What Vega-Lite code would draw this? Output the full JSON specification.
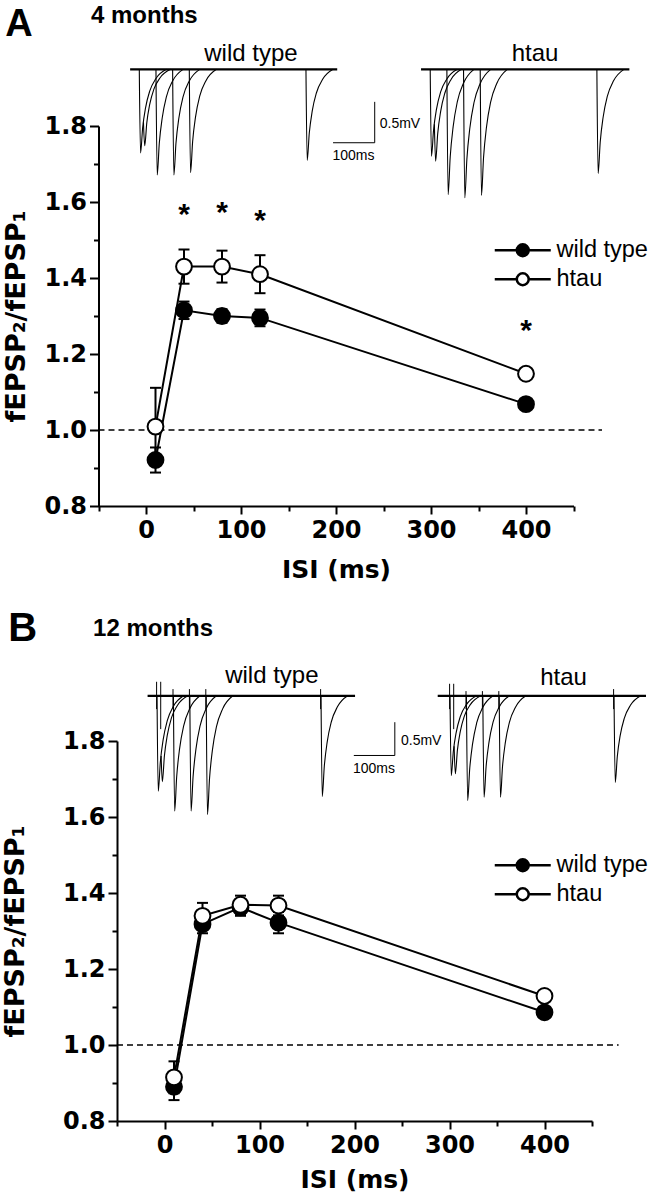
{
"$schema":"https://vega.github.io/schema/vega-lite/v6.json",
"padding":{"left":1,"top":3,"right":0,"bottom":0},
"spacing":27,
"resolve":{"scale":{"fill":"independent"},"legend":{"fill":"independent"}},
"config":{"view":{"stroke":null},"font":"Liberation Sans","axis":{"domainColor":"black","tickColor":"black","labelColor":"black","titleColor":"black","grid":false,"labelFont":"DejaVu Sans","titleFont":"DejaVu Sans"},"legend":{"labelColor":"black"}},
"datasets":{
"ppr":[
{"p":"A","g":"wild type","isi":10,"m":0.921,"lo":0.888,"hi":0.954},
{"p":"A","g":"wild type","isi":40,"m":1.315,"lo":1.292,"hi":1.338},
{"p":"A","g":"wild type","isi":80,"m":1.30,"lo":1.282,"hi":1.318},
{"p":"A","g":"wild type","isi":120,"m":1.295,"lo":1.273,"hi":1.317},
{"p":"A","g":"wild type","isi":400,"m":1.068,"lo":1.058,"hi":1.078},
{"p":"A","g":"htau","isi":10,"m":1.009,"lo":0.907,"hi":1.111},
{"p":"A","g":"htau","isi":40,"m":1.43,"lo":1.385,"hi":1.475},
{"p":"A","g":"htau","isi":80,"m":1.43,"lo":1.388,"hi":1.472},
{"p":"A","g":"htau","isi":120,"m":1.41,"lo":1.36,"hi":1.46},
{"p":"A","g":"htau","isi":400,"m":1.148,"lo":1.138,"hi":1.158},
{"p":"B","g":"wild type","isi":10,"m":0.89,"lo":0.855,"hi":0.925},
{"p":"B","g":"wild type","isi":40,"m":1.318,"lo":1.294,"hi":1.342},
{"p":"B","g":"wild type","isi":80,"m":1.362,"lo":1.34,"hi":1.384},
{"p":"B","g":"wild type","isi":120,"m":1.322,"lo":1.294,"hi":1.35},
{"p":"B","g":"wild type","isi":400,"m":1.086,"lo":1.076,"hi":1.096},
{"p":"B","g":"htau","isi":10,"m":0.915,"lo":0.873,"hi":0.957},
{"p":"B","g":"htau","isi":40,"m":1.34,"lo":1.306,"hi":1.374},
{"p":"B","g":"htau","isi":80,"m":1.369,"lo":1.345,"hi":1.393},
{"p":"B","g":"htau","isi":120,"m":1.367,"lo":1.341,"hi":1.393},
{"p":"B","g":"htau","isi":400,"m":1.129,"lo":1.119,"hi":1.139}
],
"ref":[{"p":"A","y":1,"x0":-50,"x1":480},{"p":"B","y":1,"x0":-50,"x1":478}],
"sig":[{"p":"A","isi":40,"y":1.575,"lab":"*"},{"p":"A","isi":80,"y":1.578,"lab":"*"},{"p":"A","isi":120,"y":1.557,"lab":"*"},{"p":"A","isi":400,"y":1.269,"lab":"*"}],
"base":[{"p":"A","g":"wt","t0":-22,"t1":475,"v":0},{"p":"A","g":"ht","t0":-22,"t1":478,"v":0},{"p":"B","g":"wt","t0":-23,"t1":483,"v":0},{"p":"B","g":"ht","t0":-30,"t1":478,"v":0}],
"stim":[
{"p":"B","g":"wt","t":-1,"v0":0.21,"v1":-0.2},{"p":"B","g":"wt","t":9,"v0":0.21,"v1":-0.5},{"p":"B","g":"wt","t":39,"v0":0.1,"v1":-0.2},{"p":"B","g":"wt","t":79,"v0":0.1,"v1":-0.2},{"p":"B","g":"wt","t":119,"v0":0.1,"v1":-0.2},{"p":"B","g":"wt","t":399,"v0":0.1,"v1":-0.2},
{"p":"B","g":"ht","t":-1,"v0":0.18,"v1":-0.2},{"p":"B","g":"ht","t":9,"v0":0.18,"v1":-0.5},{"p":"B","g":"ht","t":39,"v0":0.07,"v1":-0.2},{"p":"B","g":"ht","t":79,"v0":0.07,"v1":-0.2},{"p":"B","g":"ht","t":119,"v0":0.07,"v1":-0.2},{"p":"B","g":"ht","t":399,"v0":0.1,"v1":-0.2}
],
"bar":[{"p":"A","t0":465,"t1":565,"v0":-0.903,"v1":-0.40},{"p":"B","t0":480,"t1":580,"v0":-0.895,"v1":-0.396}],
"txt":[
{"p":"A","k":"letter","text":"A","t":-322,"v":0.404},
{"p":"A","k":"title","text":"4 months","t":-116,"v":0.57},
{"p":"A","k":"wt","text":"wild type","t":268,"v":0.10},
{"p":"A","k":"ht","text":"htau","t":251.5,"v":0.10},
{"p":"A","k":"mv","text":"0.5mV","t":577,"v":-0.673},
{"p":"A","k":"ms","text":"100ms","t":514,"v":-1.067},
{"p":"B","k":"letter","text":"B","t":-363,"v":0.814},
{"p":"B","k":"title","text":"12 months","t":-156,"v":0.889},
{"p":"B","k":"wt","text":"wild type","t":280,"v":0.189},
{"p":"B","k":"ht","text":"htau","t":277,"v":0.165},
{"p":"B","k":"mv","text":"0.5mV","t":595,"v":-0.675},
{"p":"B","k":"ms","text":"100ms","t":529,"v":-1.10}
],
"tr":[
{"p":"A","g":"wt","s":"0","t":0,"v":0},{"p":"A","g":"wt","s":"0","t":3,"v":-1.03},{"p":"A","g":"wt","s":"0","t":8,"v":-0.721},{"p":"A","g":"wt","s":"0","t":15,"v":-0.474},{"p":"A","g":"wt","s":"0","t":25,"v":-0.268},{"p":"A","g":"wt","s":"0","t":40,"v":-0.113},{"p":"A","g":"wt","s":"0","t":65,"v":0},
{"p":"A","g":"wt","s":"10","t":10,"v":-0.65},{"p":"A","g":"wt","s":"10","t":13,"v":-0.94},{"p":"A","g":"wt","s":"10","t":18,"v":-0.658},{"p":"A","g":"wt","s":"10","t":25,"v":-0.432},{"p":"A","g":"wt","s":"10","t":35,"v":-0.244},{"p":"A","g":"wt","s":"10","t":50,"v":-0.103},{"p":"A","g":"wt","s":"10","t":75,"v":0},
{"p":"A","g":"wt","s":"40","t":40,"v":0},{"p":"A","g":"wt","s":"40","t":43,"v":-1.3},{"p":"A","g":"wt","s":"40","t":48,"v":-0.91},{"p":"A","g":"wt","s":"40","t":55,"v":-0.598},{"p":"A","g":"wt","s":"40","t":65,"v":-0.338},{"p":"A","g":"wt","s":"40","t":80,"v":-0.143},{"p":"A","g":"wt","s":"40","t":105,"v":0},
{"p":"A","g":"wt","s":"80","t":80,"v":0},{"p":"A","g":"wt","s":"80","t":83,"v":-1.3},{"p":"A","g":"wt","s":"80","t":88,"v":-0.91},{"p":"A","g":"wt","s":"80","t":95,"v":-0.598},{"p":"A","g":"wt","s":"80","t":105,"v":-0.338},{"p":"A","g":"wt","s":"80","t":120,"v":-0.143},{"p":"A","g":"wt","s":"80","t":145,"v":0},
{"p":"A","g":"wt","s":"120","t":120,"v":0},{"p":"A","g":"wt","s":"120","t":123,"v":-1.27},{"p":"A","g":"wt","s":"120","t":128,"v":-0.889},{"p":"A","g":"wt","s":"120","t":135,"v":-0.584},{"p":"A","g":"wt","s":"120","t":145,"v":-0.33},{"p":"A","g":"wt","s":"120","t":160,"v":-0.14},{"p":"A","g":"wt","s":"120","t":185,"v":0},
{"p":"A","g":"wt","s":"400","t":400,"v":0},{"p":"A","g":"wt","s":"400","t":403,"v":-1.12},{"p":"A","g":"wt","s":"400","t":408,"v":-0.784},{"p":"A","g":"wt","s":"400","t":415,"v":-0.515},{"p":"A","g":"wt","s":"400","t":425,"v":-0.291},{"p":"A","g":"wt","s":"400","t":440,"v":-0.123},{"p":"A","g":"wt","s":"400","t":465,"v":0},
{"p":"A","g":"ht","s":"0","t":0,"v":0},{"p":"A","g":"ht","s":"0","t":3,"v":-1.07},{"p":"A","g":"ht","s":"0","t":8,"v":-0.749},{"p":"A","g":"ht","s":"0","t":15,"v":-0.492},{"p":"A","g":"ht","s":"0","t":25,"v":-0.278},{"p":"A","g":"ht","s":"0","t":40,"v":-0.118},{"p":"A","g":"ht","s":"0","t":65,"v":0},
{"p":"A","g":"ht","s":"10","t":10,"v":-0.676},{"p":"A","g":"ht","s":"10","t":13,"v":-1.13},{"p":"A","g":"ht","s":"10","t":18,"v":-0.791},{"p":"A","g":"ht","s":"10","t":25,"v":-0.52},{"p":"A","g":"ht","s":"10","t":35,"v":-0.294},{"p":"A","g":"ht","s":"10","t":50,"v":-0.124},{"p":"A","g":"ht","s":"10","t":75,"v":0},
{"p":"A","g":"ht","s":"40","t":40,"v":0},{"p":"A","g":"ht","s":"40","t":43,"v":-1.54},{"p":"A","g":"ht","s":"40","t":48,"v":-1.078},{"p":"A","g":"ht","s":"40","t":55,"v":-0.708},{"p":"A","g":"ht","s":"40","t":65,"v":-0.4},{"p":"A","g":"ht","s":"40","t":80,"v":-0.169},{"p":"A","g":"ht","s":"40","t":105,"v":0},
{"p":"A","g":"ht","s":"80","t":80,"v":0},{"p":"A","g":"ht","s":"80","t":83,"v":-1.58},{"p":"A","g":"ht","s":"80","t":88,"v":-1.106},{"p":"A","g":"ht","s":"80","t":95,"v":-0.727},{"p":"A","g":"ht","s":"80","t":105,"v":-0.411},{"p":"A","g":"ht","s":"80","t":120,"v":-0.174},{"p":"A","g":"ht","s":"80","t":145,"v":0},
{"p":"A","g":"ht","s":"120","t":120,"v":0},{"p":"A","g":"ht","s":"120","t":123,"v":-1.55},{"p":"A","g":"ht","s":"120","t":128,"v":-1.085},{"p":"A","g":"ht","s":"120","t":135,"v":-0.713},{"p":"A","g":"ht","s":"120","t":145,"v":-0.403},{"p":"A","g":"ht","s":"120","t":160,"v":-0.171},{"p":"A","g":"ht","s":"120","t":185,"v":0},
{"p":"A","g":"ht","s":"400","t":400,"v":0},{"p":"A","g":"ht","s":"400","t":403,"v":-1.28},{"p":"A","g":"ht","s":"400","t":408,"v":-0.896},{"p":"A","g":"ht","s":"400","t":415,"v":-0.589},{"p":"A","g":"ht","s":"400","t":425,"v":-0.333},{"p":"A","g":"ht","s":"400","t":440,"v":-0.141},{"p":"A","g":"ht","s":"400","t":465,"v":0},
{"p":"B","g":"wt","s":"0","t":0,"v":0},{"p":"B","g":"wt","s":"0","t":3,"v":-1.43},{"p":"B","g":"wt","s":"0","t":8,"v":-1.001},{"p":"B","g":"wt","s":"0","t":15,"v":-0.658},{"p":"B","g":"wt","s":"0","t":25,"v":-0.372},{"p":"B","g":"wt","s":"0","t":40,"v":-0.157},{"p":"B","g":"wt","s":"0","t":65,"v":0},
{"p":"B","g":"wt","s":"10","t":10,"v":-0.903},{"p":"B","g":"wt","s":"10","t":13,"v":-1.29},{"p":"B","g":"wt","s":"10","t":18,"v":-0.903},{"p":"B","g":"wt","s":"10","t":25,"v":-0.593},{"p":"B","g":"wt","s":"10","t":35,"v":-0.335},{"p":"B","g":"wt","s":"10","t":50,"v":-0.142},{"p":"B","g":"wt","s":"10","t":75,"v":0},
{"p":"B","g":"wt","s":"40","t":40,"v":0},{"p":"B","g":"wt","s":"40","t":43,"v":-1.73},{"p":"B","g":"wt","s":"40","t":48,"v":-1.211},{"p":"B","g":"wt","s":"40","t":55,"v":-0.796},{"p":"B","g":"wt","s":"40","t":65,"v":-0.45},{"p":"B","g":"wt","s":"40","t":80,"v":-0.19},{"p":"B","g":"wt","s":"40","t":105,"v":0},
{"p":"B","g":"wt","s":"80","t":80,"v":0},{"p":"B","g":"wt","s":"80","t":83,"v":-1.73},{"p":"B","g":"wt","s":"80","t":88,"v":-1.211},{"p":"B","g":"wt","s":"80","t":95,"v":-0.796},{"p":"B","g":"wt","s":"80","t":105,"v":-0.45},{"p":"B","g":"wt","s":"80","t":120,"v":-0.19},{"p":"B","g":"wt","s":"80","t":145,"v":0},
{"p":"B","g":"wt","s":"120","t":120,"v":0},{"p":"B","g":"wt","s":"120","t":123,"v":-1.78},{"p":"B","g":"wt","s":"120","t":128,"v":-1.246},{"p":"B","g":"wt","s":"120","t":135,"v":-0.819},{"p":"B","g":"wt","s":"120","t":145,"v":-0.463},{"p":"B","g":"wt","s":"120","t":160,"v":-0.196},{"p":"B","g":"wt","s":"120","t":185,"v":0},
{"p":"B","g":"wt","s":"400","t":400,"v":0},{"p":"B","g":"wt","s":"400","t":403,"v":-1.51},{"p":"B","g":"wt","s":"400","t":408,"v":-1.057},{"p":"B","g":"wt","s":"400","t":415,"v":-0.695},{"p":"B","g":"wt","s":"400","t":425,"v":-0.393},{"p":"B","g":"wt","s":"400","t":440,"v":-0.166},{"p":"B","g":"wt","s":"400","t":465,"v":0},
{"p":"B","g":"ht","s":"0","t":0,"v":0},{"p":"B","g":"ht","s":"0","t":3,"v":-1.2},{"p":"B","g":"ht","s":"0","t":8,"v":-0.84},{"p":"B","g":"ht","s":"0","t":15,"v":-0.552},{"p":"B","g":"ht","s":"0","t":25,"v":-0.312},{"p":"B","g":"ht","s":"0","t":40,"v":-0.132},{"p":"B","g":"ht","s":"0","t":65,"v":0},
{"p":"B","g":"ht","s":"10","t":10,"v":-0.758},{"p":"B","g":"ht","s":"10","t":13,"v":-1.17},{"p":"B","g":"ht","s":"10","t":18,"v":-0.819},{"p":"B","g":"ht","s":"10","t":25,"v":-0.538},{"p":"B","g":"ht","s":"10","t":35,"v":-0.304},{"p":"B","g":"ht","s":"10","t":50,"v":-0.129},{"p":"B","g":"ht","s":"10","t":75,"v":0},
{"p":"B","g":"ht","s":"40","t":40,"v":0},{"p":"B","g":"ht","s":"40","t":43,"v":-1.57},{"p":"B","g":"ht","s":"40","t":48,"v":-1.099},{"p":"B","g":"ht","s":"40","t":55,"v":-0.722},{"p":"B","g":"ht","s":"40","t":65,"v":-0.408},{"p":"B","g":"ht","s":"40","t":80,"v":-0.173},{"p":"B","g":"ht","s":"40","t":105,"v":0},
{"p":"B","g":"ht","s":"80","t":80,"v":0},{"p":"B","g":"ht","s":"80","t":83,"v":-1.52},{"p":"B","g":"ht","s":"80","t":88,"v":-1.064},{"p":"B","g":"ht","s":"80","t":95,"v":-0.699},{"p":"B","g":"ht","s":"80","t":105,"v":-0.395},{"p":"B","g":"ht","s":"80","t":120,"v":-0.167},{"p":"B","g":"ht","s":"80","t":145,"v":0},
{"p":"B","g":"ht","s":"120","t":120,"v":0},{"p":"B","g":"ht","s":"120","t":123,"v":-1.52},{"p":"B","g":"ht","s":"120","t":128,"v":-1.064},{"p":"B","g":"ht","s":"120","t":135,"v":-0.699},{"p":"B","g":"ht","s":"120","t":145,"v":-0.395},{"p":"B","g":"ht","s":"120","t":160,"v":-0.167},{"p":"B","g":"ht","s":"120","t":185,"v":0},
{"p":"B","g":"ht","s":"400","t":400,"v":0},{"p":"B","g":"ht","s":"400","t":403,"v":-1.3},{"p":"B","g":"ht","s":"400","t":408,"v":-0.91},{"p":"B","g":"ht","s":"400","t":415,"v":-0.598},{"p":"B","g":"ht","s":"400","t":425,"v":-0.338},{"p":"B","g":"ht","s":"400","t":440,"v":-0.143},{"p":"B","g":"ht","s":"400","t":465,"v":0}
]
},
"vconcat":[
{
"width":475,"height":380,
"resolve":{"scale":{"x":"independent","y":"independent"}},
"layer":[
{
"resolve":{"axis":{"x":"independent","y":"independent"}},
"layer":[
{"data":{"name":"ref"},"transform":[{"filter":"datum.p==='A'"}],"mark":{"type":"rule","strokeDash":[6,4],"strokeWidth":1.5,"color":"black"},
 "encoding":{"x":{"field":"x0","type":"quantitative","scale":{"domain":[-50,450],"range":[-18.5,456.5],"nice":false,"zero":false},"axis":{"orient":"bottom","values":[-50,50,150,250,350,450],"tickSize":5,"tickWidth":2,"labels":false,"domain":false,"title":null}},"x2":{"field":"x1"},
 "y":{"field":"y","type":"quantitative","scale":{"domain":[0.8,1.8],"nice":false,"zero":false},"axis":{"orient":"left","offset":18.5,"values":[0.9,1.1,1.3,1.5,1.7],"tickSize":5,"tickWidth":2,"labels":false,"domain":false,"title":null}}}},
{"data":{"name":"ppr"},"transform":[{"filter":"datum.p==='A'"}],"mark":{"type":"rule","strokeWidth":2,"color":"black"},
 "encoding":{"x":{"field":"isi","type":"quantitative","axis":null},"y":{"field":"lo","type":"quantitative","axis":null},"y2":{"field":"hi"}}},
{"data":{"name":"ppr"},"transform":[{"filter":"datum.p==='A'"}],"mark":{"type":"tick","orient":"horizontal","size":11,"thickness":2,"color":"black","opacity":1},
 "encoding":{"x":{"field":"isi","type":"quantitative","axis":null},"y":{"field":"lo","type":"quantitative","axis":null}}},
{"data":{"name":"ppr"},"transform":[{"filter":"datum.p==='A'"}],"mark":{"type":"tick","orient":"horizontal","size":11,"thickness":2,"color":"black","opacity":1},
 "encoding":{"x":{"field":"isi","type":"quantitative","axis":null},"y":{"field":"hi","type":"quantitative","axis":null}}},
{"data":{"name":"ppr"},"transform":[{"filter":"datum.p==='A'"}],"mark":{"type":"line","strokeWidth":2,"color":"black"},
 "encoding":{"x":{"field":"isi","type":"quantitative","axis":{"orient":"bottom","values":[0,100,200,300,400],"tickSize":8,"tickWidth":2,"domainWidth":2,"labelFontSize":24,"labelFontWeight":"bold","labelPadding":4,"labelFlush":false,"title":"ISI (ms)","titleFontSize":25,"titleFontWeight":"bold","titlePadding":15}},
 "y":{"field":"m","type":"quantitative","axis":{"orient":"left","offset":18.5,"values":[0.8,1.0,1.2,1.4,1.6,1.8],"format":".1f","tickSize":9,"tickWidth":2,"domainWidth":2,"labelFontSize":24,"labelFontWeight":"bold","labelPadding":3,"title":"fEPSP₂/fEPSP₁","titleFontSize":27,"titleFontWeight":"bold","titlePadding":13}},
 "detail":{"field":"g"}}},
{"data":{"name":"ppr"},"transform":[{"filter":"datum.p==='A'"}],"mark":{"type":"point","shape":"circle","filled":true,"size":250,"stroke":"black","strokeWidth":2,"opacity":1},
 "encoding":{"x":{"field":"isi","type":"quantitative","axis":null},"y":{"field":"m","type":"quantitative","axis":null},
 "fill":{"field":"g","type":"nominal","scale":{"domain":["wild type","htau"],"range":["black","white"]},
 "legend":{"orient":"none","legendX":394,"legendY":112.5,"title":null,"symbolType":"M-4,0L-0.9,0M0.9,0L4,0M0.85,0A0.85,0.85,0,1,1,-0.85,0A0.85,0.85,0,1,1,0.85,0Z","symbolSize":196,"symbolStrokeColor":"black","symbolStrokeWidth":2.5,"labelFontSize":23.5,"labelFont":"Liberation Sans","labelOffset":22,"rowPadding":4,"padding":0}}}},
{"data":{"name":"sig"},"transform":[{"filter":"datum.p==='A'"}],"mark":{"type":"text","fontSize":30,"fontWeight":"bold","baseline":"alphabetic","dy":12,"color":"black"},
 "encoding":{"x":{"field":"isi","type":"quantitative","axis":null},"y":{"field":"y","type":"quantitative","axis":null},"text":{"field":"lab"}}}
]
},
{
"layer":[
{"data":{"name":"tr"},"transform":[{"filter":"datum.p==='A' && datum.g==='wt'"}],"mark":{"type":"line","color":"black","strokeWidth":1.1,"interpolate":"monotone"},
 "encoding":{"x":{"field":"t","type":"quantitative","scale":{"domain":[-53.5,1086.5],"nice":false,"zero":false},"axis":null},"y":{"field":"v","type":"quantitative","scale":{"domain":[-5.371,-0.697],"nice":false,"zero":false},"axis":null},"detail":{"field":"s"}}},
{"data":{"name":"base"},"transform":[{"filter":"datum.p==='A' && datum.g==='wt'"}],"mark":{"type":"rule","color":"black","strokeWidth":2.2},
 "encoding":{"x":{"field":"t0","type":"quantitative","axis":null},"x2":{"field":"t1"},"y":{"field":"v","type":"quantitative","axis":null}}},
{"data":{"name":"bar"},"transform":[{"filter":"datum.p==='A'"}],"mark":{"type":"rule","color":"black","strokeWidth":1},
 "encoding":{"x":{"field":"t0","type":"quantitative","axis":null},"x2":{"field":"t1"},"y":{"field":"v0","type":"quantitative","axis":null}}},
{"data":{"name":"bar"},"transform":[{"filter":"datum.p==='A'"}],"mark":{"type":"rule","color":"black","strokeWidth":1},
 "encoding":{"x":{"field":"t1","type":"quantitative","axis":null},"y":{"field":"v0","type":"quantitative","axis":null},"y2":{"field":"v1"}}},
{"data":{"name":"txt"},"transform":[{"filter":"datum.p==='A' && datum.k==='letter'"}],"mark":{"type":"text","fontSize":38,"fontWeight":"bold","align":"left","baseline":"alphabetic","color":"black"},
 "encoding":{"x":{"field":"t","type":"quantitative","axis":null},"y":{"field":"v","type":"quantitative","axis":null},"text":{"field":"text"}}},
{"data":{"name":"txt"},"transform":[{"filter":"datum.p==='A' && datum.k==='title'"}],"mark":{"type":"text","fontSize":24,"fontWeight":"bold","align":"left","baseline":"alphabetic","color":"black"},
 "encoding":{"x":{"field":"t","type":"quantitative","axis":null},"y":{"field":"v","type":"quantitative","axis":null},"text":{"field":"text"}}},
{"data":{"name":"txt"},"transform":[{"filter":"datum.p==='A' && datum.k==='wt'"}],"mark":{"type":"text","fontSize":24,"align":"center","baseline":"alphabetic","color":"black"},
 "encoding":{"x":{"field":"t","type":"quantitative","axis":null},"y":{"field":"v","type":"quantitative","axis":null},"text":{"field":"text"}}},
{"data":{"name":"txt"},"transform":[{"filter":"datum.p==='A' && datum.k==='mv'"}],"mark":{"type":"text","fontSize":14,"align":"left","baseline":"middle","color":"black"},
 "encoding":{"x":{"field":"t","type":"quantitative","axis":null},"y":{"field":"v","type":"quantitative","axis":null},"text":{"field":"text"}}},
{"data":{"name":"txt"},"transform":[{"filter":"datum.p==='A' && datum.k==='ms'"}],"mark":{"type":"text","fontSize":14,"align":"center","baseline":"middle","color":"black"},
 "encoding":{"x":{"field":"t","type":"quantitative","axis":null},"y":{"field":"v","type":"quantitative","axis":null},"text":{"field":"text"}}}
]
},
{
"layer":[
{"data":{"name":"tr"},"transform":[{"filter":"datum.p==='A' && datum.g==='ht'"}],"mark":{"type":"line","color":"black","strokeWidth":1.1,"interpolate":"monotone"},
 "encoding":{"x":{"field":"t","type":"quantitative","scale":{"domain":[-751.7,388.3],"nice":false,"zero":false},"axis":null},"y":{"field":"v","type":"quantitative","scale":{"domain":[-5.371,-0.697],"nice":false,"zero":false},"axis":null},"detail":{"field":"s"}}},
{"data":{"name":"base"},"transform":[{"filter":"datum.p==='A' && datum.g==='ht'"}],"mark":{"type":"rule","color":"black","strokeWidth":2.2},
 "encoding":{"x":{"field":"t0","type":"quantitative","axis":null},"x2":{"field":"t1"},"y":{"field":"v","type":"quantitative","axis":null}}},
{"data":{"name":"txt"},"transform":[{"filter":"datum.p==='A' && datum.k==='ht'"}],"mark":{"type":"text","fontSize":24,"align":"center","baseline":"alphabetic","color":"black"},
 "encoding":{"x":{"field":"t","type":"quantitative","axis":null},"y":{"field":"v","type":"quantitative","axis":null},"text":{"field":"text"}}}
]
}
]
},
{
"width":475,"height":380,
"resolve":{"scale":{"x":"independent","y":"independent"}},
"layer":[
{
"resolve":{"axis":{"x":"independent","y":"independent"}},
"layer":[
{"data":{"name":"ref"},"transform":[{"filter":"datum.p==='B'"}],"mark":{"type":"rule","strokeDash":[6,4],"strokeWidth":1.5,"color":"black"},
 "encoding":{"x":{"field":"x0","type":"quantitative","scale":{"domain":[-50,450],"nice":false,"zero":false},"axis":{"orient":"bottom","values":[-50,50,150,250,350,450],"tickSize":5,"tickWidth":2,"labels":false,"domain":false,"title":null}},"x2":{"field":"x1"},
 "y":{"field":"y","type":"quantitative","scale":{"domain":[0.8,1.8],"nice":false,"zero":false},"axis":{"orient":"left","values":[0.9,1.1,1.3,1.5,1.7],"tickSize":5,"tickWidth":2,"labels":false,"domain":false,"title":null}}}},
{"data":{"name":"ppr"},"transform":[{"filter":"datum.p==='B'"}],"mark":{"type":"rule","strokeWidth":2,"color":"black"},
 "encoding":{"x":{"field":"isi","type":"quantitative","axis":null},"y":{"field":"lo","type":"quantitative","axis":null},"y2":{"field":"hi"}}},
{"data":{"name":"ppr"},"transform":[{"filter":"datum.p==='B'"}],"mark":{"type":"tick","orient":"horizontal","size":11,"thickness":2,"color":"black","opacity":1},
 "encoding":{"x":{"field":"isi","type":"quantitative","axis":null},"y":{"field":"lo","type":"quantitative","axis":null}}},
{"data":{"name":"ppr"},"transform":[{"filter":"datum.p==='B'"}],"mark":{"type":"tick","orient":"horizontal","size":11,"thickness":2,"color":"black","opacity":1},
 "encoding":{"x":{"field":"isi","type":"quantitative","axis":null},"y":{"field":"hi","type":"quantitative","axis":null}}},
{"data":{"name":"ppr"},"transform":[{"filter":"datum.p==='B'"}],"mark":{"type":"line","strokeWidth":2,"color":"black"},
 "encoding":{"x":{"field":"isi","type":"quantitative","axis":{"orient":"bottom","values":[0,100,200,300,400],"tickSize":8,"tickWidth":2,"domainWidth":2,"labelFontSize":24,"labelFontWeight":"bold","labelPadding":4,"labelFlush":false,"title":"ISI (ms)","titleFontSize":25,"titleFontWeight":"bold","titlePadding":10}},
 "y":{"field":"m","type":"quantitative","axis":{"orient":"left","values":[0.8,1.0,1.2,1.4,1.6,1.8],"format":".1f","tickSize":9,"tickWidth":2,"domainWidth":2,"labelFontSize":24,"labelFontWeight":"bold","labelPadding":3,"title":"fEPSP₂/fEPSP₁","titleFontSize":27,"titleFontWeight":"bold","titlePadding":33}},
 "detail":{"field":"g"}}},
{"data":{"name":"ppr"},"transform":[{"filter":"datum.p==='B'"}],"mark":{"type":"point","shape":"circle","filled":true,"size":250,"stroke":"black","strokeWidth":2,"opacity":1},
 "encoding":{"x":{"field":"isi","type":"quantitative","axis":null},"y":{"field":"m","type":"quantitative","axis":null},
 "fill":{"field":"g","type":"nominal","scale":{"domain":["wild type","htau"],"range":["black","white"]},
 "legend":{"orient":"none","legendX":394,"legendY":112.5,"title":null,"symbolType":"M-4,0L-0.9,0M0.9,0L4,0M0.85,0A0.85,0.85,0,1,1,-0.85,0A0.85,0.85,0,1,1,0.85,0Z","symbolSize":196,"symbolStrokeColor":"black","symbolStrokeWidth":2.5,"labelFontSize":23.5,"labelFont":"Liberation Sans","labelOffset":22,"rowPadding":4,"padding":0}}}}
]
},
{
"layer":[
{"data":{"name":"tr"},"transform":[{"filter":"datum.p==='B' && datum.g==='wt'"}],"mark":{"type":"line","color":"black","strokeWidth":1.1,"interpolate":"monotone"},
 "encoding":{"x":{"field":"t","type":"quantitative","scale":{"domain":[-97.6,1060.9],"nice":false,"zero":false},"axis":null},"y":{"field":"v","type":"quantitative","scale":{"domain":[-6.375,-0.678],"nice":false,"zero":false},"axis":null},"detail":{"field":"s"}}},
{"data":{"name":"base"},"transform":[{"filter":"datum.p==='B' && datum.g==='wt'"}],"mark":{"type":"rule","color":"black","strokeWidth":2.2},
 "encoding":{"x":{"field":"t0","type":"quantitative","axis":null},"x2":{"field":"t1"},"y":{"field":"v","type":"quantitative","axis":null}}},
{"data":{"name":"stim"},"transform":[{"filter":"datum.p==='B' && datum.g==='wt'"}],"mark":{"type":"rule","color":"black","strokeWidth":1},
 "encoding":{"x":{"field":"t","type":"quantitative","axis":null},"y":{"field":"v0","type":"quantitative","axis":null},"y2":{"field":"v1"}}},
{"data":{"name":"bar"},"transform":[{"filter":"datum.p==='B'"}],"mark":{"type":"rule","color":"black","strokeWidth":1},
 "encoding":{"x":{"field":"t0","type":"quantitative","axis":null},"x2":{"field":"t1"},"y":{"field":"v0","type":"quantitative","axis":null}}},
{"data":{"name":"bar"},"transform":[{"filter":"datum.p==='B'"}],"mark":{"type":"rule","color":"black","strokeWidth":1},
 "encoding":{"x":{"field":"t1","type":"quantitative","axis":null},"y":{"field":"v0","type":"quantitative","axis":null},"y2":{"field":"v1"}}},
{"data":{"name":"txt"},"transform":[{"filter":"datum.p==='B' && datum.k==='letter'"}],"mark":{"type":"text","fontSize":40,"fontWeight":"bold","align":"left","baseline":"alphabetic","color":"black"},
 "encoding":{"x":{"field":"t","type":"quantitative","axis":null},"y":{"field":"v","type":"quantitative","axis":null},"text":{"field":"text"}}},
{"data":{"name":"txt"},"transform":[{"filter":"datum.p==='B' && datum.k==='title'"}],"mark":{"type":"text","fontSize":24,"fontWeight":"bold","align":"left","baseline":"alphabetic","color":"black"},
 "encoding":{"x":{"field":"t","type":"quantitative","axis":null},"y":{"field":"v","type":"quantitative","axis":null},"text":{"field":"text"}}},
{"data":{"name":"txt"},"transform":[{"filter":"datum.p==='B' && datum.k==='wt'"}],"mark":{"type":"text","fontSize":24,"align":"center","baseline":"alphabetic","color":"black"},
 "encoding":{"x":{"field":"t","type":"quantitative","axis":null},"y":{"field":"v","type":"quantitative","axis":null},"text":{"field":"text"}}},
{"data":{"name":"txt"},"transform":[{"filter":"datum.p==='B' && datum.k==='mv'"}],"mark":{"type":"text","fontSize":14,"align":"left","baseline":"middle","color":"black"},
 "encoding":{"x":{"field":"t","type":"quantitative","axis":null},"y":{"field":"v","type":"quantitative","axis":null},"text":{"field":"text"}}},
{"data":{"name":"txt"},"transform":[{"filter":"datum.p==='B' && datum.k==='ms'"}],"mark":{"type":"text","fontSize":14,"align":"center","baseline":"middle","color":"black"},
 "encoding":{"x":{"field":"t","type":"quantitative","axis":null},"y":{"field":"v","type":"quantitative","axis":null},"text":{"field":"text"}}}
]
},
{
"layer":[
{"data":{"name":"tr"},"transform":[{"filter":"datum.p==='B' && datum.g==='ht'"}],"mark":{"type":"line","color":"black","strokeWidth":1.1,"interpolate":"monotone"},
 "encoding":{"x":{"field":"t","type":"quantitative","scale":{"domain":[-812.2,346.3],"nice":false,"zero":false},"axis":null},"y":{"field":"v","type":"quantitative","scale":{"domain":[-6.375,-0.678],"nice":false,"zero":false},"axis":null},"detail":{"field":"s"}}},
{"data":{"name":"base"},"transform":[{"filter":"datum.p==='B' && datum.g==='ht'"}],"mark":{"type":"rule","color":"black","strokeWidth":2.2},
 "encoding":{"x":{"field":"t0","type":"quantitative","axis":null},"x2":{"field":"t1"},"y":{"field":"v","type":"quantitative","axis":null}}},
{"data":{"name":"stim"},"transform":[{"filter":"datum.p==='B' && datum.g==='ht'"}],"mark":{"type":"rule","color":"black","strokeWidth":1},
 "encoding":{"x":{"field":"t","type":"quantitative","axis":null},"y":{"field":"v0","type":"quantitative","axis":null},"y2":{"field":"v1"}}},
{"data":{"name":"txt"},"transform":[{"filter":"datum.p==='B' && datum.k==='ht'"}],"mark":{"type":"text","fontSize":24,"align":"center","baseline":"alphabetic","color":"black"},
 "encoding":{"x":{"field":"t","type":"quantitative","axis":null},"y":{"field":"v","type":"quantitative","axis":null},"text":{"field":"text"}}}
]
}
]
}
]
}
